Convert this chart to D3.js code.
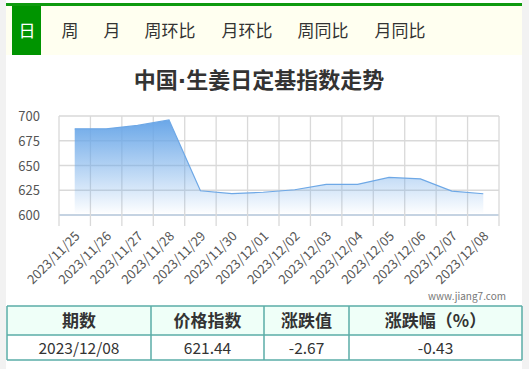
<!DOCTYPE html>
<html><head><meta charset="utf-8">
<script src="https://cdn.jsdelivr.net/npm/d3@7"></script>
<style>
body{margin:0;background:#fff;font-family:"Microsoft YaHei","Noto Sans CJK SC",sans-serif;}
</style></head>
<body><svg id="c" width="529" height="369"></svg>
<script>
const tabs = ["日","周","月","周环比","月环比","周同比","月同比"];
const titleParts = ["中国","·","生姜日定基指数走势"];
const dates = ["2023/11/25","2023/11/26","2023/11/27","2023/11/28","2023/11/29","2023/11/30","2023/12/01","2023/12/02","2023/12/03","2023/12/04","2023/12/05","2023/12/06","2023/12/07","2023/12/08"];
const values = [687,687,690.5,696,624.5,621.5,623,625.5,631,631,638,636.5,624.11,621.44];
const yTicks = [600,625,650,675,700];
const tableHead = ["期数","价格指数","涨跌值","涨跌幅（%）"];
const tableRow = ["2023/12/08","621.44","-2.67","-0.43"];

const svg = d3.select("#c");
const font = "'Microsoft YaHei','Noto Sans CJK SC',sans-serif";

// page side strips
svg.append("rect").attr("x",0).attr("y",0).attr("width",6).attr("height",369).attr("fill","#f2f2f2");
svg.append("rect").attr("x",522).attr("y",0).attr("width",7).attr("height",369).attr("fill","#f2f2f2");

// tab bar
svg.append("rect").attr("x",6).attr("y",3).attr("width",516).attr("height",3).attr("fill","#0f9a0f");
svg.append("rect").attr("x",6).attr("y",6).attr("width",516).attr("height",49).attr("fill","#fffff0");
svg.append("rect").attr("x",12).attr("y",6).attr("width",29).attr("height",49).attr("fill","#009400");
const tabX = [27,70,112,170,247,323,400];
svg.selectAll("text.tab").data(tabs).join("text").attr("class","tab")
  .attr("x",(d,i)=>tabX[i]).attr("y",37).attr("text-anchor","middle")
  .attr("font-family",font).attr("font-size",17)
  .attr("fill",(d,i)=>i===0?"#fff":"#333").text(d=>d);

// title
const tt = svg.append("text").attr("x",259).attr("y",88).attr("text-anchor","middle")
  .attr("font-family",font).attr("font-size",22).attr("font-weight","bold").attr("fill","#333");
titleParts.forEach((t,i)=>{
  const s = tt.append("tspan").text(t);
  if(i===1) s.attr("font-family","'DejaVu Sans',sans-serif");
});

// chart
const pL=59,pR=499,pT=116,pB=215;
const x = d3.scaleBand().domain(dates).range([pL,pR]);
const y = d3.scaleLinear().domain([600,700]).range([pB,pT]);

const defs = svg.append("defs");
const grad = defs.append("linearGradient").attr("id","g").attr("x1",0).attr("y1",0).attr("x2",0).attr("y2",1);
grad.append("stop").attr("offset","0%").attr("stop-color","#6aa7e8").attr("stop-opacity",1);
grad.append("stop").attr("offset","100%").attr("stop-color","#6aa7e8").attr("stop-opacity",0.02);

// grid
const g = svg.append("g");
g.selectAll("line.h").data(yTicks).join("line").attr("class","h")
  .attr("x1",pL).attr("x2",pR).attr("y1",d=>y(d)).attr("y2",d=>y(d))
  .attr("stroke",d=>d===600?"#c5d3e2":"#d9d9d9").attr("stroke-width",d=>d===600?2:1.3);
const bounds = dates.map(d=>x(d)).concat([pR]);
g.selectAll("line.v").data(bounds).join("line").attr("class","v")
  .attr("x1",d=>d).attr("x2",d=>d).attr("y1",pT).attr("y2",pB+11)
  .attr("stroke","#d9d9d9").attr("stroke-width",1.3);

// y labels
const yAxis = d3.axisLeft(y).tickValues(yTicks).tickSize(0).tickPadding(0);
const ya = svg.append("g").attr("transform",`translate(40,0)`).call(yAxis);
ya.select(".domain").remove();
ya.selectAll("text").attr("font-family",font).attr("font-size",13).attr("fill","#555").attr("dy","0.35em");

// area + line
const cx = d=>x(d)+x.bandwidth()/2;
const pts = dates.map((d,i)=>({d,v:values[i]}));
const area = d3.area().x(p=>cx(p.d)).y0(y(600)-2).y1(p=>y(p.v));
svg.append("path").datum(pts).attr("d",area).attr("fill","url(#g)");
const line = d3.line().x(p=>cx(p.d)).y(p=>y(p.v));
svg.append("path").datum(pts).attr("d",line).attr("fill","none").attr("stroke","#6ea8e6").attr("stroke-width",1.2);

// x labels
const xa = svg.append("g").attr("transform",`translate(0,${pB})`)
  .call(d3.axisBottom(x).tickSize(0).tickPadding(0));
xa.select(".domain").remove();
xa.selectAll("text").attr("font-family",font).attr("font-size",13).attr("fill","#555")
  .attr("text-anchor","end").attr("dy",0)
  .attr("transform","translate(6,22) rotate(-45)");

// watermark
svg.append("text").attr("x",506).attr("y",300).attr("text-anchor","end")
  .attr("font-family",font).attr("font-size",10).attr("fill","#777").text("www.jiang7.com");

// table
const colX=[7,151,264,349,522];
const rowY=[306,335,360];
svg.append("rect").attr("x",7).attr("y",306).attr("width",515).attr("height",29).attr("fill","#effff8");
const tb = svg.append("g");
rowY.forEach(yy=>tb.append("line").attr("x1",7).attr("x2",522).attr("y1",yy).attr("y2",yy).attr("stroke","#5aaca7").attr("stroke-width",1.5));
colX.forEach(xx=>tb.append("line").attr("x1",xx).attr("x2",xx).attr("y1",306).attr("y2",360).attr("stroke","#5aaca7").attr("stroke-width",1.5));
tableHead.forEach((t,i)=>tb.append("text").attr("x",(colX[i]+colX[i+1])/2).attr("y",327).attr("text-anchor","middle")
  .attr("font-family",font).attr("font-size",17).attr("font-weight","bold").attr("fill","#333").text(t));
tableRow.forEach((t,i)=>tb.append("text").attr("x",(colX[i]+colX[i+1])/2).attr("y",354).attr("text-anchor","middle")
  .attr("font-family",font).attr("font-size",15.5).attr("fill","#333").text(t));
</script></body></html>
